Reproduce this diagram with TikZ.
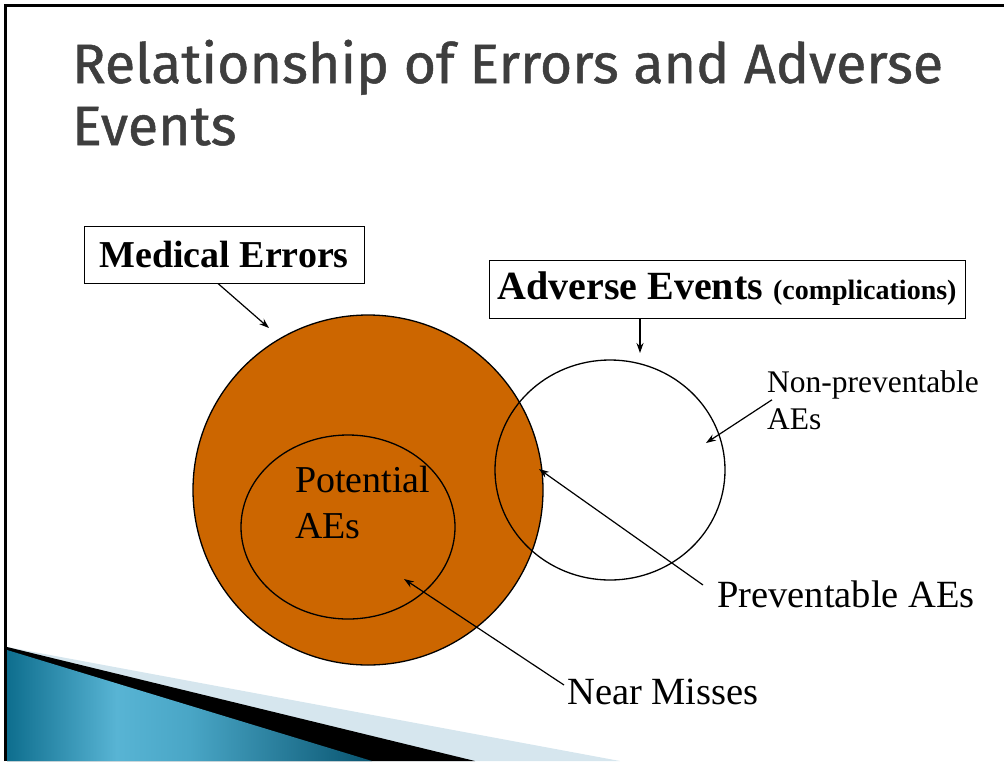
\documentclass[tikz,border=0pt]{standalone}
\usepackage{fontspec}
\setmainfont{Liberation Serif}
\newfontfamily\titlefont[FakeBold=0.9]{Fira Sans}
\usetikzlibrary{arrows.meta,positioning}

\definecolor{errfill}{RGB}{204,102,0}
\definecolor{titlegray}{RGB}{62,62,62}
\definecolor{paleband}{RGB}{214,230,238}
\definecolor{tealdark}{RGB}{14,110,142}
\definecolor{teallight}{RGB}{88,180,212}
\definecolor{tealdeep}{RGB}{8,84,112}
\pgfdeclarehorizontalshading{swoosh}{100bp}{color(0bp)=(tealdark); color(25bp)=(tealdark); color(40bp)=(teallight); color(50bp)=(teallight!80!tealdark); color(75bp)=(tealdeep); color(100bp)=(tealdeep)}

\tikzset{
  labelbox/.style={draw, line width=1pt, inner sep=0pt, font=\bfseries},
  plainlabel/.style={inner sep=0pt, align=left},
  pointer/.style={line width=1.2pt, -{Stealth[length=10pt,width=7pt]}},
  ring/.style={line width=1.3pt},
  titletext/.style={anchor=base west, inner sep=0pt, text=titlegray, font=\titlefont\fontsize{55.5}{62}\selectfont}
}

\begin{document}
\begin{tikzpicture}[x=1pt,y=-1pt]
      \useasboundingbox (0,0) rectangle (1004,761);
      % slide frame
      \draw[line width=3pt] (5,761) -- (5,5) -- (1004,5);
      % title
      \node[titletext] (title1) at (72,83) {Relationship of Errors and Adverse};
      \node[titletext] (title2) at (72,145) {Events};
      % bottom swoosh
      \fill[paleband] (7,647) -- (620,761) -- (7,761) -- cycle;
      \fill[black] (7,647) -- (475,761) -- (7,761) -- cycle;
      \shade[shading=swoosh] (7,650) -- (372,761) -- (7,761) -- cycle;
      % circles
      \draw[ring, fill=errfill] (368,490) circle (175);
      \draw[ring] (348,527) ellipse (107 and 92);
      \draw[ring] (610,470) ellipse (115 and 110);
      % labels
      \node[labelbox, minimum width=280pt, minimum height=57pt, font=\bfseries\fontsize{38}{40}\selectfont] (medbox) at (224,254.5) {Medical Errors};
      \node[labelbox, minimum width=476pt, minimum height=58pt] (advbox) at (727,289) {\fontsize{40}{42}\selectfont Adverse Events \fontsize{28}{30}\selectfont(complications)};
      \node[plainlabel, anchor=north west, font=\fontsize{38}{46}\selectfont] (potential) at (295,466) {Potential\\AEs};
      \node[plainlabel, anchor=north west, font=\fontsize{31.5}{37}\selectfont] (nonprev) at (767,370) {Non-preventable\\AEs};
      \node[plainlabel, anchor=west, font=\fontsize{38.5}{40}\selectfont] (prev) at (717,594) {Preventable AEs};
      \node[plainlabel, anchor=west, font=\fontsize{38.5}{40}\selectfont] (near) at (567,692) {Near Misses};
      % arrow tips
      \coordinate (medtip) at (269,328);
      \coordinate (advtip) at (640,353);
      \coordinate (nontip) at (706,443);
      \coordinate (prevtip) at (539,469);
      \coordinate (neartip) at (404,579);
      % pointers
      \draw[pointer] ([xshift=-6pt]medbox.south) -- (medtip);
      \draw[pointer] ([xshift=-87pt]advbox.south) -- (advtip);
      \draw[pointer] ([xshift=5pt]nonprev.west) -- (nontip);
      \draw[pointer] ([xshift=-14pt,yshift=9pt]prev.west) -- (prevtip);
      \draw[pointer] ([xshift=-3pt,yshift=7pt]near.west) -- (neartip);
\end{tikzpicture}
\end{document}
